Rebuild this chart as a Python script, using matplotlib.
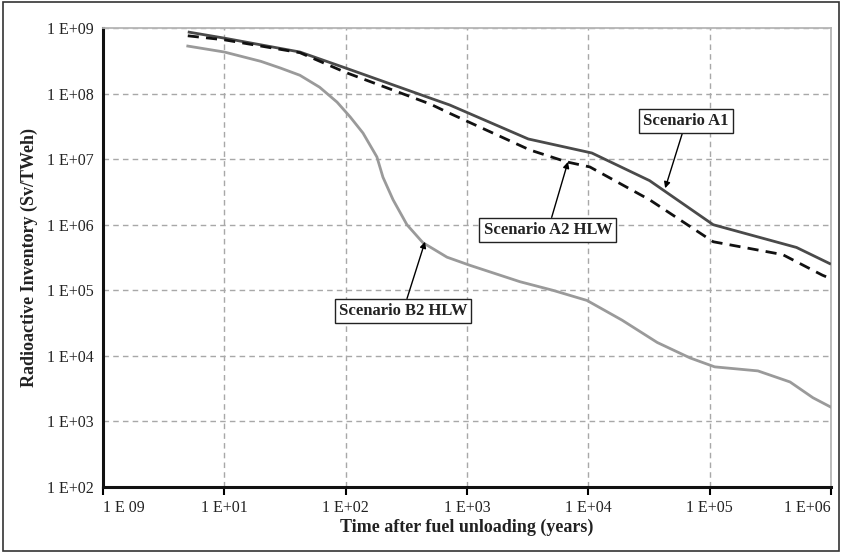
import matplotlib
matplotlib.use("Agg")
import matplotlib.pyplot as plt
from matplotlib.patches import Rectangle

plt.rcParams['font.family'] = ['Liberation Serif', 'DejaVu Serif']

# ---- data ----
a1_x = [5, 10, 42, 100, 500, 720, 3200, 10700, 32000, 107000, 520000, 1000000]
a1_y = [8.7e8, 7.0e8, 4.3e8, 2.45e8, 8.5e7, 6.7e7, 2.03e7, 1.24e7, 4.7e6, 1.0e6, 4.5e5, 2.5e5]

a2_x = [5, 10, 42, 100, 500, 720, 3300, 6600, 10300, 32000, 107000, 400000, 850000, 1000000]
a2_y = [7.6e8, 6.6e8, 4.2e8, 2.1e8, 6.9e7, 5.0e7, 1.38e7, 9.1e6, 7.6e6, 2.4e6, 5.5e5, 3.5e5, 1.7e5, 1.5e5]

b2_x = [5, 10, 20, 29, 42, 61, 85, 109, 139, 181, 203, 246, 320, 434, 525, 684, 1060,
        2740, 5100, 9750, 19000, 37000, 69000, 110000, 250000, 460000, 710000, 1000000]
b2_y = [5.3e8, 4.3e8, 3.1e8, 2.45e8, 1.9e8, 1.25e8, 7.4e7, 4.4e7, 2.5e7, 1.08e7, 5.3e6,
        2.4e6, 1.0e6, 5.3e5, 4.3e5, 3.2e5, 2.4e5, 1.35e5, 1.0e5, 7.0e4, 3.5e4, 1.6e4,
        9.3e3, 6.8e3, 5.9e3, 4.0e3, 2.3e3, 1.65e3]

x_ticks = [1, 1e1, 1e2, 1e3, 1e4, 1e5, 1e6]
x_tick_labels = ["1 E 09", "1 E+01", "1 E+02", "1 E+03", "1 E+04", "1 E+05", "1 E+06"]
y_ticks = [1e2, 1e3, 1e4, 1e5, 1e6, 1e7, 1e8, 1e9]
y_tick_labels = ["1 E+02", "1 E+03", "1 E+04", "1 E+05", "1 E+06", "1 E+07", "1 E+08", "1 E+09"]
y_marked_ticks = [1e2, 1e4, 1e6, 1e8]

labels = ["Scenario A1", "Scenario A2 HLW", "Scenario B2 HLW"]
label_text_xy = [(6.4e4, 3.8e7), (4650, 8.3e5), (297, 4.8e4)]
label_arrow_xy = [(4.3e4, 3.6e6), (6.8e3, 9.1e6), (451, 5.5e5)]

# ---- figure ----
fig = plt.figure(figsize=(8.42, 5.53), dpi=100)
ax = fig.add_axes([0.1223, 0.1193, 0.8646, 0.8301])

ax.plot(a1_x, a1_y, color='#4a4a4a', lw=2.0, solid_capstyle='butt', zorder=4)
ax.plot(a2_x, a2_y, color='#111111', lw=2.0, dashes=(4, 2.6), zorder=4)
ax.plot(b2_x, b2_y, color='#9a9a9a', lw=2.0, zorder=3)

ax.set_xscale('log')
ax.set_yscale('log')
ax.set_xlim(1, 1e6)
ax.set_ylim(1e2, 1e9)

ax.set_xticks(x_ticks)
ax.set_xticklabels(x_tick_labels)
ax.set_yticks(y_ticks)
ax.set_yticklabels(y_tick_labels)
ax.minorticks_off()
ax.set_yticks(y_marked_ticks, minor=True)
ax.tick_params(axis='y', which='major', length=0, pad=7, labelsize=11.5, labelcolor='#222222')
ax.tick_params(axis='y', which='minor', length=6, width=1.5, direction='out')
ax.tick_params(axis='x', which='major', length=6, width=1.5, direction='out', pad=3,
               labelsize=11.5, labelcolor='#222222')
xtl = ax.get_xticklabels()
xtl[0].set_horizontalalignment('left')
xtl[-1].set_horizontalalignment('right')

ax.grid(True, which='major', color='#a8a8a8', lw=1.0, ls=(0, (4, 3)))
ax.set_axisbelow(True)

for s in ['left', 'bottom']:
    ax.spines[s].set_linewidth(2.2)
    ax.spines[s].set_color('#111111')
for s in ['top', 'right']:
    ax.spines[s].set_linewidth(1.3)
    ax.spines[s].set_color('#b5b5b5')

ax.set_xlabel("Time after fuel unloading (years)", fontsize=13, fontweight='bold', labelpad=2,
              color='#222222')
ax.set_ylabel("Radioactive Inventory (Sv/TWeh)", fontsize=13, fontweight='bold', labelpad=6,
              color='#222222')

for lab, txy, axy in zip(labels, label_text_xy, label_arrow_xy):
    ax.annotate(lab, xy=axy, xytext=txy, ha='center', va='center',
                fontsize=12, fontweight='bold', zorder=6, color='#222222',
                bbox=dict(boxstyle='square,pad=0.25', fc='white', ec='#222222', lw=1.0),
                arrowprops=dict(arrowstyle='-|>', color='black', lw=1.0,
                                mutation_scale=9, shrinkA=0, shrinkB=0))

fig.patches.append(Rectangle((0.003, 0.004), 0.994, 0.992, transform=fig.transFigure,
                             fill=False, ec='#333333', lw=1.2))

fig.savefig("out.png", dpi=100)
